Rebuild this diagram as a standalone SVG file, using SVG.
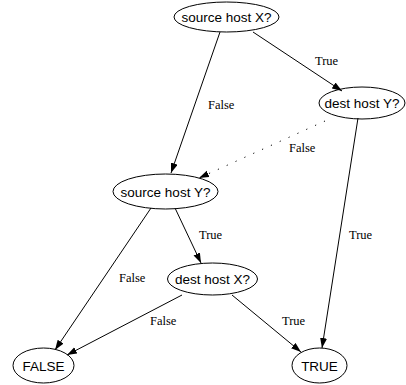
<svg xmlns="http://www.w3.org/2000/svg" width="406" height="385" viewBox="0 0 406 385">
<style>
.n ellipse{fill:none;stroke:#000;stroke-width:1}
.n text{font-family:"Liberation Sans",Arial,sans-serif;font-size:13.5px;text-anchor:middle;fill:#000}
.e line{stroke:#000;stroke-width:1;fill:none}
.e .dot{stroke-dasharray:1.2,8.5}
.lbl{font-family:"Liberation Serif","Times New Roman",serif;font-size:12.5px;fill:#000}
</style>
<defs>
<marker id="ah" markerUnits="userSpaceOnUse" markerWidth="10" markerHeight="8" refX="10" refY="3.5" orient="auto">
<path d="M0,0 L10,3.5 L0,7 z" fill="#000"/>
</marker>
</defs>
<g id="connectors" class="e">
<line x1="220" y1="32" x2="171" y2="173" marker-end="url(#ah)"/>
<line x1="253" y1="32" x2="342" y2="91" marker-end="url(#ah)"/>
<line class="dot" x1="325" y1="121" x2="199" y2="178" marker-end="url(#ah)"/>
<line x1="358" y1="118" x2="322" y2="348" marker-end="url(#ah)"/>
<line x1="151" y1="208" x2="55" y2="350" marker-end="url(#ah)"/>
<line x1="175" y1="208" x2="201" y2="263" marker-end="url(#ah)"/>
<line x1="182" y1="295" x2="67" y2="355" marker-end="url(#ah)"/>
<line x1="232" y1="295" x2="301" y2="352" marker-end="url(#ah)"/>
<text class="lbl" x="208" y="109">False</text>
<text class="lbl" x="315" y="65">True</text>
<text class="lbl" x="289" y="152">False</text>
<text class="lbl" x="349" y="239">True</text>
<text class="lbl" x="119" y="282">False</text>
<text class="lbl" x="199" y="239">True</text>
<text class="lbl" x="150" y="325">False</text>
<text class="lbl" x="282" y="325">True</text>
</g>
<g id="srcX" class="n"><ellipse cx="226.5" cy="17" rx="52.5" ry="15"/><text x="226.5" y="22">source host X?</text></g>
<g id="destY" class="n"><ellipse cx="362" cy="103" rx="43" ry="16"/><text x="362" y="108">dest host Y?</text></g>
<g id="srcY" class="n"><ellipse cx="165.5" cy="191.5" rx="52.5" ry="17.5"/><text x="165.5" y="196.5">source host Y?</text></g>
<g id="destX" class="n"><ellipse cx="212.5" cy="279" rx="45" ry="16"/><text x="212.5" y="284">dest host X?</text></g>
<g id="FALSE" class="n"><ellipse cx="43.5" cy="365.5" rx="30.5" ry="17.5"/><text x="43.5" y="370.5">FALSE</text></g>
<g id="TRUE" class="n"><ellipse cx="319.5" cy="365.5" rx="27.5" ry="17.5"/><text x="319.5" y="370.5">TRUE</text></g>
</svg>
